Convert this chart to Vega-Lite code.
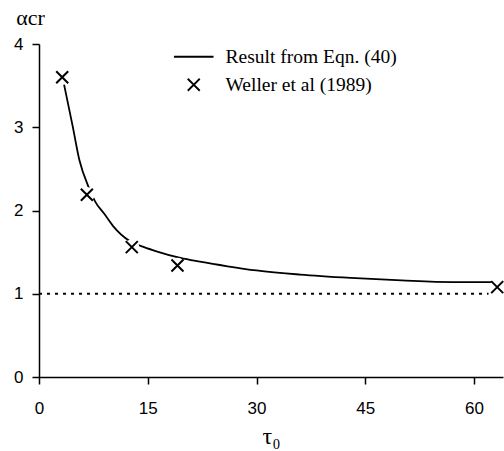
{
  "$schema": "https://vega.github.io/schema/vega-lite/v6.json",
  "width": 464,
  "height": 333,
  "autosize": "none",
  "padding": {"left": 39, "top": 44, "right": 1, "bottom": 74},
  "background": "white",
  "config": {
    "view": {"stroke": null},
    "axis": {
      "grid": false,
      "domainColor": "black",
      "domainWidth": 1.5,
      "tickColor": "black",
      "tickWidth": 1.5,
      "labelFont": "Liberation Sans",
      "labelFontSize": 17,
      "labelColor": "black",
      "titleColor": "black",
      "titleFontWeight": "normal"
    }
  },
  "datasets": {
    "curve": [
      {"tau": 3.3, "alpha": 3.58},
      {"tau": 4.65, "alpha": 3.01},
      {"tau": 5.56, "alpha": 2.61},
      {"tau": 6.8, "alpha": 2.29},
      {"tau": 7.73, "alpha": 2.11},
      {"tau": 9.0, "alpha": 1.96},
      {"tau": 10.25, "alpha": 1.81},
      {"tau": 12.56, "alpha": 1.63},
      {"tau": 14.5, "alpha": 1.56},
      {"tau": 16.2, "alpha": 1.51},
      {"tau": 19.5, "alpha": 1.43},
      {"tau": 22.2, "alpha": 1.385},
      {"tau": 26, "alpha": 1.33},
      {"tau": 30, "alpha": 1.28},
      {"tau": 36, "alpha": 1.23},
      {"tau": 43, "alpha": 1.19},
      {"tau": 50, "alpha": 1.16},
      {"tau": 57, "alpha": 1.14},
      {"tau": 63, "alpha": 1.14}
    ],
    "weller": [
      {"tau": 3.2, "alpha": 3.6, "series": "Weller et al (1989)"},
      {"tau": 6.6, "alpha": 2.19, "series": "Weller et al (1989)"},
      {"tau": 12.8, "alpha": 1.56, "series": "Weller et al (1989)"},
      {"tau": 19.1, "alpha": 1.34, "series": "Weller et al (1989)"},
      {"tau": 63.2, "alpha": 1.08, "series": "Weller et al (1989)"}
    ],
    "ref": [{"tau": 0, "tau2": 62, "alpha": 1}]
  },
  "layer": [
    {
      "data": {"name": "ref"},
      "mark": {"type": "rule", "strokeDash": [3, 5], "strokeWidth": 2, "color": "black"},
      "encoding": {
        "x": {
          "field": "tau", "type": "quantitative",
          "scale": {"domain": [0, 64], "nice": false},
          "axis": {
            "values": [0, 15, 30, 45, 60],
            "format": "d",
            "title": "τ₀",
            "titleFont": "Liberation Serif",
            "titleFontSize": 24,
            "titleY": 66,
            "titleBaseline": "alphabetic",
            "tickSize": 7,
            "labelPadding": 16,
            "labelFlush": false,
            "encode": {"ticks": {"update": {"y2": {"value": -7}}}}
          }
        },
        "x2": {"field": "tau2"},
        "y": {
          "field": "alpha", "type": "quantitative",
          "scale": {"domain": [0, 4], "nice": false},
          "axis": {
            "values": [0, 1, 2, 3, 4],
            "format": "d",
            "title": "αcr",
            "titleAngle": 0,
            "titleX": -9,
            "titleY": -20,
            "titleAlign": "center",
            "titleBaseline": "alphabetic",
            "titleFont": "Liberation Serif",
            "titleFontSize": 22,
            "tickSize": 7,
            "labelPadding": 9,
            "encode": {"ticks": {"update": {"x2": {"value": 7}}}}
          }
        }
      }
    },
    {
      "data": {"name": "curve"},
      "mark": {"type": "line", "color": "black", "strokeWidth": 1.8, "interpolate": "monotone"},
      "encoding": {
        "x": {"field": "tau", "type": "quantitative"},
        "y": {"field": "alpha", "type": "quantitative"}
      }
    },
    {
      "data": {"name": "weller"},
      "mark": {"type": "point", "shape": "circle", "filled": true, "color": "white", "size": 230, "opacity": 1},
      "encoding": {
        "x": {"field": "tau", "type": "quantitative"},
        "y": {"field": "alpha", "type": "quantitative"}
      }
    },
    {
      "data": {"name": "weller"},
      "mark": {"type": "point", "filled": false, "color": "black", "strokeWidth": 2, "size": 144, "opacity": 1},
      "encoding": {
        "x": {"field": "tau", "type": "quantitative"},
        "y": {"field": "alpha", "type": "quantitative"},
        "shape": {
          "field": "series", "type": "nominal",
          "scale": {
            "domain": ["Result from Eqn. (40)", "Weller et al (1989)"],
            "range": ["M-3.3,0L3.3,0", "M-1,-1L1,1M1,-1L-1,1"]
          },
          "legend": {
            "orient": "none",
            "legendX": 145,
            "legendY": 3,
            "title": null,
            "labelFont": "Liberation Serif",
            "labelFontSize": 19.5,
            "labelColor": "black",
            "labelLimit": 400,
            "labelOffset": 22,
            "symbolSize": 144,
            "symbolStrokeWidth": 1.8,
            "symbolStrokeColor": "black",
            "rowPadding": 7,
            "encode": {
              "labels": {"update": {"fontSize": {"signal": "datum.value === 'Weller et al (1989)' ? 17 : 19.5"}}}
            }
          }
        }
      }
    }
  ]
}
